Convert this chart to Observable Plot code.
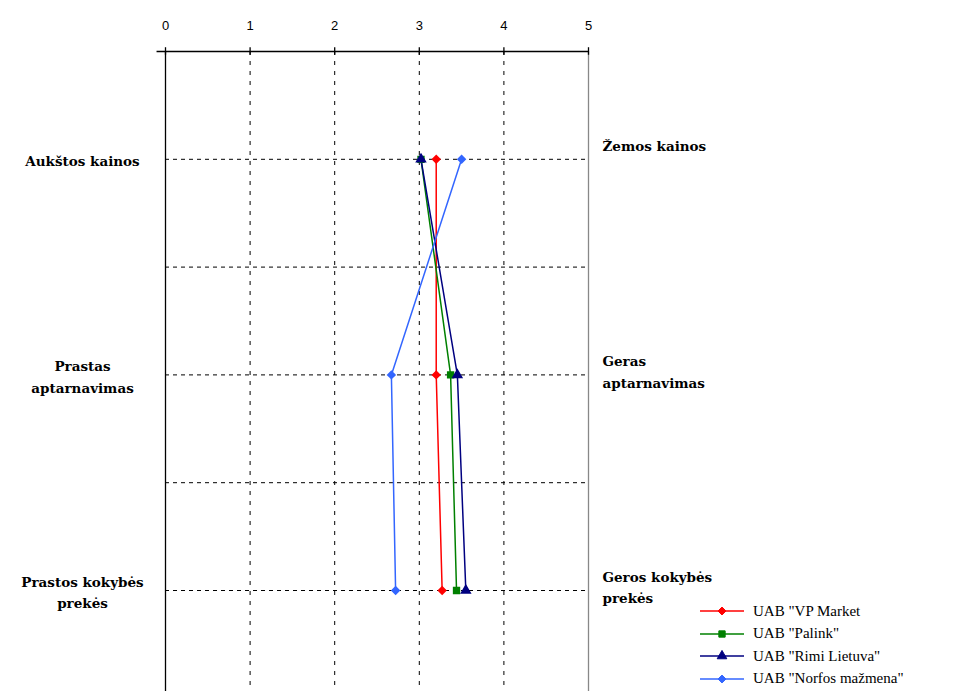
<!DOCTYPE html>
<html>
<head>
<meta charset="utf-8">
<script src="https://cdn.jsdelivr.net/npm/d3@7"></script>
<script src="https://cdn.jsdelivr.net/npm/@observablehq/plot@0.6"></script>
<style>
  html, body { margin: 0; padding: 0; background: #fff; }
  #wrap { position: relative; width: 963px; height: 691px; overflow: hidden; }
  #legend { position: absolute; left: 699px; top: 600px; font-family: "Liberation Serif", serif; font-size: 15px; color: #000; }
  #legend .row { display: flex; align-items: center; height: 22.5px; white-space: nowrap; }
  #legend svg { margin-right: 8px; }
</style>
</head>
<body>
<div id="wrap"><div id="chart"></div><div id="legend"></div></div>
<script>
const leftLabels = ["Aukštos kainos", "Prastas\naptarnavimas", "Prastos kokybės\nprekės"];
const rightLabels = ["Žemos kainos", "Geras\naptarnavimas", "Geros kokybės\nprekės"];
const xTicks = [0, 1, 2, 3, 4, 5];
const seriesNames = ['UAB "VP Market', 'UAB "Palink"', 'UAB "Rimi Lietuva"', 'UAB "Norfos mažmena"'];
const vpMarket = [3.2, 3.2, 3.27];
const palink = [3.02, 3.37, 3.44];
const rimi = [3.02, 3.45, 3.55];
const norfos = [3.5, 2.67, 2.72];
const colors = ["#ff0000", "#008000", "#000080", "#3366ff"];
const symbols = ["diamond2", "square", "triangle", "diamond2"];

const allSeries = [vpMarket, palink, rimi, norfos];
const rowY = i => 1 + 2 * i;
const data = [];
allSeries.forEach((vals, s) => vals.forEach((v, i) => data.push({series: seriesNames[s], x: v, y: rowY(i)})));
const gridY = d3.range(1, 2 * leftLabels.length);
const labelRows = leftLabels.map((t, i) => ({y: rowY(i), left: t, right: rightLabels[i]}));

const W = 963, H = 691, mTop = 51, unit = 107.8;
const yMax = (H - mTop) / unit;
const labelFont = '"DejaVu Serif", serif';

const chart = Plot.plot({
  width: W, height: H,
  marginTop: mTop, marginBottom: 0, marginLeft: 165, marginRight: 375,
  style: {background: "#fff", overflow: "visible"},
  x: {domain: [0, 5], axis: null},
  y: {domain: [0, yMax], axis: null, reverse: true},
  color: {domain: seriesNames, range: colors},
  symbol: {domain: seriesNames, range: symbols},
  marks: [
    Plot.ruleY(gridY, {x1: 0, x2: 5, stroke: "#000", strokeDasharray: "4,4", strokeWidth: 1}),
    Plot.ruleX([1, 2, 3, 4], {y1: 0, y2: yMax, stroke: "#000", strokeDasharray: "4,6", strokeWidth: 1}),
    Plot.ruleX([0], {y1: 0, y2: yMax, stroke: "#000", strokeWidth: 1.3}),
    Plot.ruleX([5], {y1: 0, y2: yMax, stroke: "#888", strokeWidth: 1.3}),
    Plot.ruleY([0], {x1: -0.1, x2: 5, stroke: "#000", strokeWidth: 1.3}),
    Plot.ruleX(xTicks, {y1: -0.035, y2: 0.035, stroke: "#000", strokeWidth: 1.3}),
    Plot.text(xTicks, {x: d => d, y: 0, text: d => String(d), dy: -26, fontFamily: "Liberation Sans", fontSize: 13, fill: "#000"}),
    Plot.line(data, {x: "x", y: "y", z: "series", stroke: "series", strokeWidth: 1.5}),
    Plot.dot(data, {x: "x", y: "y", symbol: "series", fill: "series", stroke: "series", r: 3.3}),
    Plot.text(labelRows, {frameAnchor: "left", y: "y", text: "left", dx: -83, textAnchor: "middle", lineHeight: 1.6, fontFamily: labelFont, fontWeight: "bold", fontSize: 13.5, letterSpacing: "-0.3px", fill: "#000"}),
    Plot.text(labelRows, {frameAnchor: "right", y: "y", text: "right", dx: 14, dy: -24, textAnchor: "start", lineAnchor: "top", lineHeight: 1.6, fontFamily: labelFont, fontWeight: "bold", fontSize: 13.5, letterSpacing: "-0.3px", fill: "#000"})
  ]
});
document.getElementById("chart").appendChild(chart);

const legend = document.getElementById("legend");
const symMap = {diamond2: d3.symbolDiamond2, square: d3.symbolSquare, triangle: d3.symbolTriangle};
seriesNames.forEach((name, i) => {
  const row = document.createElement("div");
  row.className = "row";
  const sym = d3.symbol(symMap[symbols[i]], 40)();
  row.innerHTML = `<svg width="46" height="12"><line x1="1" x2="45" y1="6" y2="6" stroke="${colors[i]}" stroke-width="1.5"/><path d="${sym}" transform="translate(23,6)" fill="${colors[i]}" stroke="${colors[i]}"/></svg><span></span>`;
  row.querySelector("span").textContent = name;
  legend.appendChild(row);
});
</script>
</body>
</html>
